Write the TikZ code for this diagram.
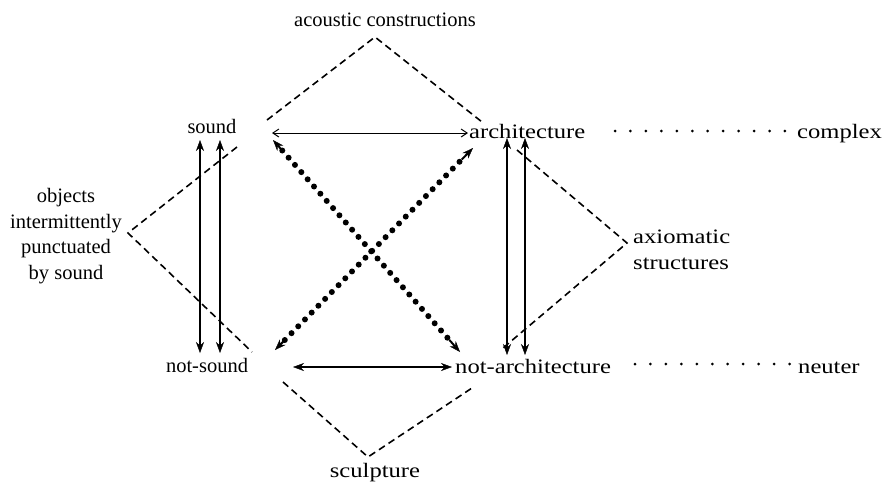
\documentclass[tikz,border=0pt]{standalone}
\usepackage{fontspec}
\setmainfont{Liberation Serif}
\newfontfamily\wideserif[FakeStretch=1.2]{Liberation Serif}
\usetikzlibrary{arrows.meta,calc}
\begin{document}
\begin{tikzpicture}[x=1pt,y=-1pt,
  lbl/.style={inner sep=0pt,font=\fontsize{20.5}{25.5}\selectfont},
  wlbl/.style={inner sep=0pt,font=\fontsize{20.5}{25.5}\selectfont\wideserif},
  tri/.style={line width=1.6pt,dash pattern=on 7pt off 4.5pt},
  vert/.style={line width=1.5pt,{Stealth[length=11pt,width=8pt,line width=0.4pt]}-{Stealth[length=11pt,width=8pt,line width=0.4pt]}},
  toparrow/.style={line width=1pt,{Straight Barb[length=6pt,width=8pt,line width=1pt]}-{Straight Barb[length=6pt,width=8pt,line width=1pt]}},
  botarrow/.style={line width=1.8pt,{Stealth[length=11pt,width=8pt,line width=0.4pt]}-{Stealth[length=11pt,width=8pt,line width=0.4pt]}},
  dotline/.style={line width=6pt,line cap=round,dash pattern=on 0pt off 9.6pt},
  dottip/.style={line width=2pt,-{Stealth[length=11pt,width=8pt,line width=0.4pt]}},
  leader/.style={line width=3pt,line cap=round,dash pattern=on 0pt off 15.45pt}]
\useasboundingbox (0,0) rectangle (886,483);

% labels
\node[lbl,anchor=base] (acoustic) at (385,26) {acoustic constructions};
\node[lbl,anchor=base] (sound) at (212,133) {sound};
\node[lbl,anchor=base] (notsound) at (207,372) {not-sound};
\node[lbl,align=center] (objects) at (66,236) {objects\\intermittently\\punctuated\\by sound};
\node[wlbl,anchor=base west] (arch) at (469,138) {architecture};
\node[wlbl,anchor=base west] (complex) at (797,138) {complex};
\node[wlbl,anchor=base west] (notarch) at (455,373) {not-architecture};
\node[wlbl,anchor=base west] (neuter) at (798,373) {neuter};
\node[wlbl,anchor=base] (sculpture) at (375,477) {sculpture};
\node[wlbl,align=left,anchor=west] (axiom) at (633,250) {axiomatic\\structures};

% connector end points
\coordinate (sndR) at (272,133);
\coordinate (archL) at (468,133);
\coordinate (nsR) at (293,367);
\coordinate (naL) at (452,367);
\coordinate (sL1) at (200,140); \coordinate (nsL1) at (200,353);
\coordinate (sL2) at (220,140); \coordinate (nsL2) at (220,353);
\coordinate (aR1) at (507,138); \coordinate (naR1) at (507,355);
\coordinate (aR2) at (525,138); \coordinate (naR2) at (525,355);
\coordinate (dA1) at (273,140); \coordinate (dA2) at (460,352);
\coordinate (dB1) at (275,350); \coordinate (dB2) at (473,148);
\coordinate (lc1) at (615,131); \coordinate (lc2) at (785,131);
\coordinate (ln1) at (635,364); \coordinate (ln2) at (790,364);

% dashed triangles
\coordinate (tA) at (267,120); \coordinate (tP) at (375,37); \coordinate (tB) at (482,122);
\coordinate (lA) at (237,147); \coordinate (lP) at (128,233); \coordinate (lB) at (252,352);
\coordinate (rA) at (517,150); \coordinate (rP) at (627,243); \coordinate (rB) at (503,348);
\coordinate (bA) at (283,382); \coordinate (bP) at (368,457); \coordinate (bB) at (472,388);
\draw[tri] (tA) -- (tP) -- (tB);
\draw[tri] (lA) -- (lP) -- (lB);
\draw[tri] (rA) -- (rP) -- (rB);
\draw[tri] (bA) -- (bP) -- (bB);

% arrows
\draw[toparrow] (sndR) -- (archL);
\draw[botarrow] (nsR) -- (naL);
\draw[vert] (sL1) -- (nsL1);
\draw[vert] (sL2) -- (nsL2);
\draw[vert] (aR1) -- (naR1);
\draw[vert] (aR2) -- (naR2);

% dotted diagonals with solid heads
\draw[dotline] ($(dA1)!14pt!(dA2)$) -- ($(dA2)!14pt!(dA1)$);
\draw[dotline] ($(dB1)!14pt!(dB2)$) -- ($(dB2)!14pt!(dB1)$);
\draw[dottip] ($(dA1)!16pt!(dA2)$) -- (dA1);
\draw[dottip] ($(dA2)!16pt!(dA1)$) -- (dA2);
\draw[dottip] ($(dB1)!16pt!(dB2)$) -- (dB1);
\draw[dottip] ($(dB2)!16pt!(dB1)$) -- (dB2);

% leaders
\draw[leader] (lc1) -- (lc2);
\draw[leader] (ln1) -- (ln2);
\end{tikzpicture}
\end{document}
